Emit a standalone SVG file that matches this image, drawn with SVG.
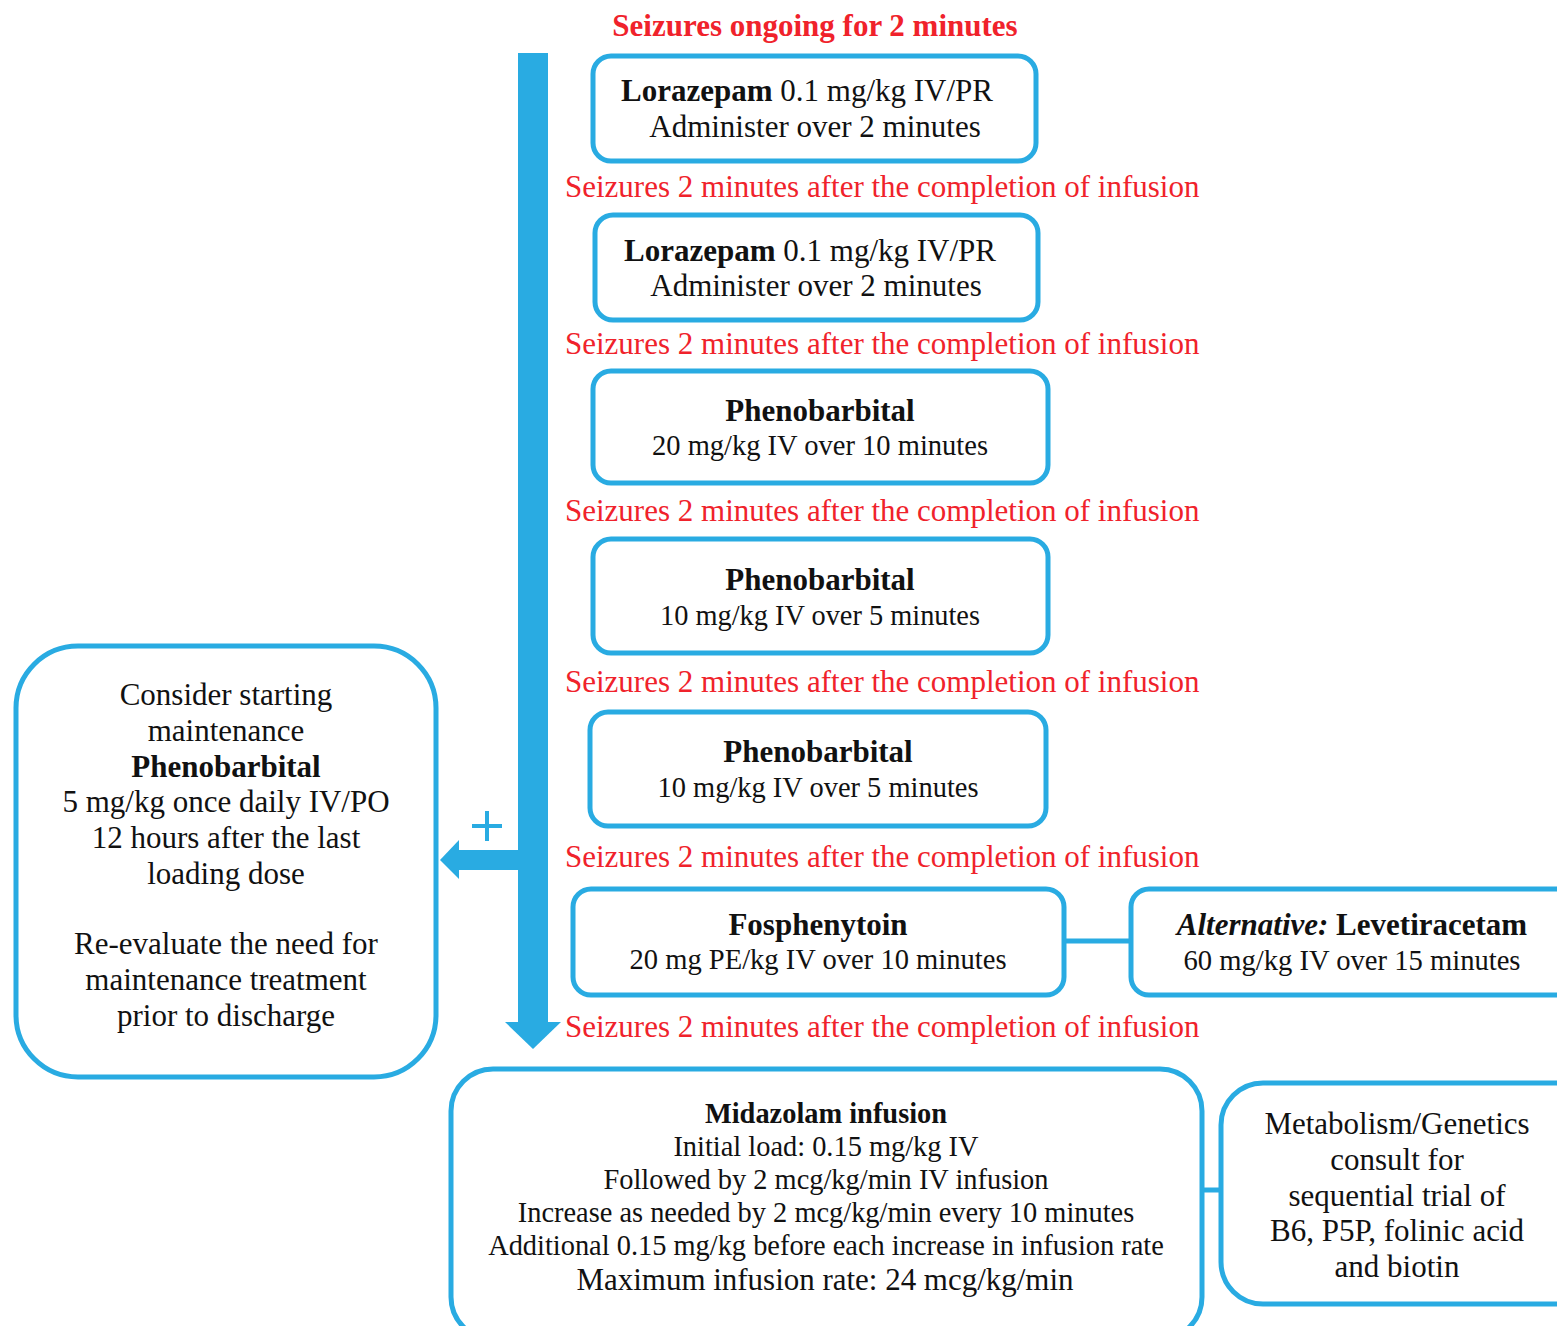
<svg xmlns="http://www.w3.org/2000/svg" width="1557" height="1326" viewBox="0 0 1557 1326">
<style>
.box{fill:#fff;stroke:#29abe2;stroke-width:5}
.t{font-family:"Liberation Serif","Times New Roman",serif;font-size:31px;fill:#111;text-anchor:middle}
.s{font-size:28.4px}
.d{font-size:29px}
.b{font-weight:bold}
.r{font-family:"Liberation Serif","Times New Roman",serif;font-size:31px;fill:#f0222b}
</style>
<rect width="1557" height="1326" fill="#fff"/>
<g id="connectors">
<rect x="518" y="53" width="30" height="970" fill="#29abe2"/>
<polygon points="505,1022 561,1022 533,1049" fill="#29abe2"/>
<rect x="458" y="850" width="61" height="20" fill="#29abe2"/>
<polygon points="459,840 459,879 440,860" fill="#29abe2"/>
<path d="M472,826 H502 M487,811 V841" stroke="#29abe2" stroke-width="4" fill="none"/>
<line x1="1064" y1="941" x2="1131" y2="941" stroke="#29abe2" stroke-width="5"/>
<line x1="1203" y1="1190" x2="1221" y2="1190" stroke="#29abe2" stroke-width="5"/>
</g>
<text class="r b" x="815" y="36" text-anchor="middle">Seizures ongoing for 2 minutes</text>
<g id="red-labels">
<text class="r" x="565" y="197">Seizures 2 minutes after the completion of infusion</text>
<text class="r" x="565" y="354">Seizures 2 minutes after the completion of infusion</text>
<text class="r" x="565" y="521">Seizures 2 minutes after the completion of infusion</text>
<text class="r" x="565" y="692">Seizures 2 minutes after the completion of infusion</text>
<text class="r" x="565" y="867">Seizures 2 minutes after the completion of infusion</text>
<text class="r" x="565" y="1037">Seizures 2 minutes after the completion of infusion</text>
</g>
<g id="lorazepam1">
<rect class="box" x="593" y="56" width="443" height="105" rx="18"/>
<text class="t" x="807" y="101"><tspan class="b">Lorazepam</tspan> 0.1 mg/kg IV/PR</text>
<text class="t" x="815" y="137">Administer over 2 minutes</text>
</g>
<g id="lorazepam2">
<rect class="box" x="595" y="215" width="443" height="105" rx="18"/>
<text class="t" x="810" y="261"><tspan class="b">Lorazepam</tspan> 0.1 mg/kg IV/PR</text>
<text class="t" x="816" y="296">Administer over 2 minutes</text>
</g>
<g id="phenobarbital1">
<rect class="box" x="593" y="371" width="455" height="112" rx="18"/>
<text class="t b" x="820" y="421">Phenobarbital</text>
<text class="t d" x="820" y="455" textLength="336" lengthAdjust="spacingAndGlyphs">20 mg/kg IV over 10 minutes</text>
</g>
<g id="phenobarbital2">
<rect class="box" x="593" y="539" width="455" height="114" rx="18"/>
<text class="t b" x="820" y="590">Phenobarbital</text>
<text class="t d" x="820" y="625" textLength="320" lengthAdjust="spacingAndGlyphs">10 mg/kg IV over 5 minutes</text>
</g>
<g id="phenobarbital3">
<rect class="box" x="590" y="712" width="456" height="114" rx="18"/>
<text class="t b" x="818" y="762">Phenobarbital</text>
<text class="t d" x="818" y="797" textLength="321" lengthAdjust="spacingAndGlyphs">10 mg/kg IV over 5 minutes</text>
</g>
<g id="fosphenytoin">
<rect class="box" x="573" y="889" width="491" height="106" rx="18"/>
<text class="t b" x="818" y="935">Fosphenytoin</text>
<text class="t d" x="818" y="969" textLength="377" lengthAdjust="spacingAndGlyphs">20 mg PE/kg IV over 10 minutes</text>
</g>
<g id="levetiracetam">
<rect class="box" x="1131" y="889" width="450" height="106" rx="18"/>
<text class="t" x="1352" y="935"><tspan class="b" font-style="italic">Alternative:</tspan> <tspan class="b">Levetiracetam</tspan></text>
<text class="t d" x="1352" y="970" textLength="337" lengthAdjust="spacingAndGlyphs">60 mg/kg IV over 15 minutes</text>
</g>
<g id="maintenance">
<rect class="box" x="16" y="646" width="420" height="431" rx="62"/>
<text class="t" x="226" y="705">Consider starting</text>
<text class="t" x="226" y="741">maintenance</text>
<text class="t b" x="226" y="777">Phenobarbital</text>
<text class="t" x="226" y="812">5 mg/kg once daily IV/PO</text>
<text class="t" x="226" y="848">12 hours after the last</text>
<text class="t" x="226" y="884">loading dose</text>
<text class="t" x="226" y="954">Re-evaluate the need for</text>
<text class="t" x="226" y="990">maintenance treatment</text>
<text class="t" x="226" y="1026">prior to discharge</text>
</g>
<g id="midazolam">
<rect class="box" x="451" y="1069" width="751" height="270" rx="42"/>
<text class="t s b" x="826" y="1123">Midazolam infusion</text>
<text class="t s" x="826" y="1156">Initial load: 0.15 mg/kg IV</text>
<text class="t s" x="826" y="1189">Followed by 2 mcg/kg/min IV infusion</text>
<text class="t s" x="826" y="1222">Increase as needed by 2 mcg/kg/min every 10 minutes</text>
<text class="t s" x="826" y="1255">Additional 0.15 mg/kg before each increase in infusion rate</text>
<text class="t" x="825" y="1290" textLength="497" lengthAdjust="spacingAndGlyphs">Maximum infusion rate: 24 mcg/kg/min</text>
</g>
<g id="metabolism">
<rect class="box" x="1221" y="1083" width="380" height="221" rx="42"/>
<text class="t" x="1397" y="1134">Metabolism/Genetics</text>
<text class="t" x="1397" y="1170">consult for</text>
<text class="t" x="1397" y="1206">sequential trial of</text>
<text class="t" x="1397" y="1241">B6, P5P, folinic acid</text>
<text class="t" x="1397" y="1277">and biotin</text>
</g>
</svg>
